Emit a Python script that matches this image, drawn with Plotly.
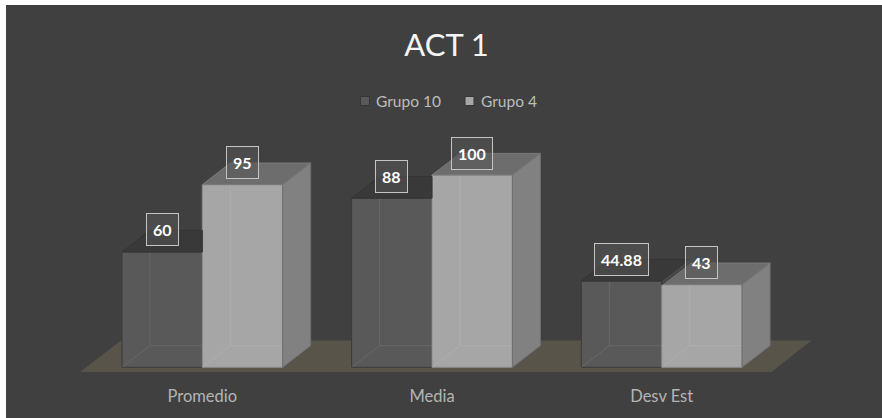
import plotly.graph_objects as go

# ---- data -------------------------------------------------------------
categories = ["Promedio", "Media", "Desv Est"]
series_names = ["Grupo 10", "Grupo 4"]
grupo10 = [60, 88, 44.88]
grupo4 = [95, 100, 43]

# ---- page / axis geometry ---------------------------------------------
W, H = 882, 418
M_L, M_T, M_R, M_B = 6, 5, 0, 40
PX_PER_CAT = 229.7          # horizontal pixels per category step
CAT0_PX = 202.3             # pixel x of the first category centre
PX_PER_UNIT = 1.923         # vertical pixels per value unit
BASE_PX = 367.3             # pixel y of the value 0 baseline

plot_bottom = H - M_B
x_range = [(M_L - CAT0_PX) / PX_PER_CAT, (W - M_R - CAT0_PX) / PX_PER_CAT]
y_range = [-(plot_bottom - BASE_PX) / PX_PER_UNIT, (BASE_PX - M_T) / PX_PER_UNIT]

BAR_W = 0.35                      # bar width in category units
DX = 28 / PX_PER_CAT              # 3-D depth offset (x)
DY = 21.6 / PX_PER_UNIT           # 3-D depth offset (y)

# colours
BG = "#404040"
C10_FRONT, C10_TOP, C10_SIDE = "#595959", "#393939", "#4b4b4b"
C4_FRONT, C4_TOP, C4_SIDE = "#a6a6a6", "#6d6d6d", "#818181"
FLOOR = "#58544a"
TXT = "#b4b4b4"

xpos = list(range(len(categories)))


def poly(points, acc_x, acc_y):
    for px, py in points + [points[0]]:
        acc_x.append(px)
        acc_y.append(py)
    acc_x.append(None)
    acc_y.append(None)


fig = go.Figure()

# front faces of the columns
fig.add_trace(go.Bar(x=xpos, y=grupo10, width=BAR_W, offset=-BAR_W, name=series_names[0],
                     marker=dict(color=C10_FRONT, line=dict(color="#3a3a3a", width=1)),
                     showlegend=False, hoverinfo="skip"))
fig.add_trace(go.Bar(x=xpos, y=grupo4, width=BAR_W, offset=0, name=series_names[1],
                     marker=dict(color=C4_FRONT, line=dict(color="#8c8c8c", width=1)),
                     showlegend=False, hoverinfo="skip"))

# faint back edges seen through the translucent columns
ex, ey = [], []
for c, v10, v4 in zip(xpos, grupo10, grupo4):
    for xa, xb, v in ((c - BAR_W, c, v10), (c, c + BAR_W, v4)):
        ex += [xa, xa + DX, xa + DX, None, xa + DX, xb, None]
        ey += [0, DY, v, None, DY, DY, None]
fig.add_trace(go.Scatter(x=ex, y=ey, mode="lines", line=dict(color="rgba(255,255,255,0.09)", width=1),
                         showlegend=False, hoverinfo="skip"))

# side and top faces
s4x, s4y, t4x, t4y, t10x, t10y, s10x, s10y = [], [], [], [], [], [], [], []
for c, v10, v4 in zip(xpos, grupo10, grupo4):
    xl, xm, xr = c - BAR_W, c, c + BAR_W
    poly([(xr, 0), (xr + DX, DY), (xr + DX, v4 + DY), (xr, v4)], s4x, s4y)
    poly([(xm, v4), (xr, v4), (xr + DX, v4 + DY), (xm + DX, v4 + DY)], t4x, t4y)
    if v10 <= v4:
        s = max(0.0, (v10 + DY - v4) / DY)
        poly([(xl, v10), (xm, v10), (xm, min(v4, v10 + DY)), (xm + DX * s, v10 + DY),
              (xl + DX, v10 + DY)], t10x, t10y)
    else:
        poly([(xl, v10), (xm, v10), (xm + DX, v10 + DY), (xl + DX, v10 + DY)], t10x, t10y)
        poly([(xm, v4), (xm + DX, v4 + DY), (xm + DX, v10 + DY), (xm, v10)], s10x, s10y)

for px_, py_, col, edge in ((s4x, s4y, C4_SIDE, "#6e6e6e"), (t4x, t4y, C4_TOP, "#7a7a7a"),
                            (t10x, t10y, C10_TOP, "#343434"), (s10x, s10y, C10_SIDE, "#383838")):
    if px_:
        fig.add_trace(go.Scatter(x=px_, y=py_, mode="lines", fill="toself", fillcolor=col,
                                 line=dict(color=edge, width=1), showlegend=False, hoverinfo="skip"))

# data labels
annotations = []
for c, v10, v4 in zip(xpos, grupo10, grupo4):
    for xc, v in ((c - BAR_W / 2, v10), (c + BAR_W / 2, v4)):
        annotations.append(dict(
            x=xc, y=v, xref="x", yref="y", text=f"{v:g}", showarrow=False,
            yanchor="middle", yshift=22,
            font=dict(family="Lato", size=16, color="#ffffff", weight="bold"),
            bgcolor="rgba(85,85,85,0.55)", bordercolor="#c4c4c4", borderwidth=1, borderpad=6))

# legend (drawn as swatches + text)
plot_h = H - M_T - M_B
plot_w = W - M_L - M_R


def px2paper(px, py):
    return (px - M_L) / plot_w, (plot_bottom - py) / plot_h


shapes = []
# dark chart area
shapes.append(dict(type="rect", xref="paper", yref="paper", x0=0, x1=1, y0=-M_B / plot_h, y1=1,
                   fillcolor=BG, line=dict(width=0), layer="below"))
# floor slab
fl_x = [-0.532, 2.478, 2.652, -0.354]
fl_y = [-2.4, -2.4, 14.0, 14.0]
shapes.append(dict(type="path", xref="x", yref="y", layer="below",
                   path="M " + " L ".join(f"{a},{b}" for a, b in zip(fl_x, fl_y)) + " Z",
                   fillcolor=FLOOR, line=dict(width=0)))

legend_items = [(series_names[0], C10_FRONT, 365.0, 374.0), (series_names[1], C4_FRONT, 469.5, 478.5)]
for name, col, sq_cx, tx in legend_items:
    x0, y0 = px2paper(sq_cx - 4.5, 105.5)
    x1, y1 = px2paper(sq_cx + 4.5, 96.5)
    shapes.append(dict(type="rect", xref="paper", yref="paper", x0=x0, x1=x1, y0=y0, y1=y1,
                       fillcolor=col, line=dict(color="#353535", width=1)))
    ax_, ay_ = px2paper(tx, 101)
    annotations.append(dict(x=ax_, y=ay_, xref="paper", yref="paper", text=name, showarrow=False,
                            xanchor="left", yanchor="middle",
                            font=dict(family="Lato", size=15.5, color="#bdbdbd")))

fig.update_layout(
    width=W, height=H,
    margin=dict(l=M_L, r=M_R, t=M_T, b=M_B, pad=0),
    paper_bgcolor="#ffffff", plot_bgcolor=BG,
    barmode="overlay",
    title=dict(text="ACT 1", x=446.5 / W, xref="container", xanchor="center",
               y=1 - 45.5 / H, yref="container", yanchor="middle",
               font=dict(family="Lato", size=31, color="#f4f4f4")),
    xaxis=dict(range=x_range, tickvals=xpos, ticktext=categories, showgrid=False, zeroline=False,
               showline=False, ticks="", ticklabelstandoff=6,
               tickfont=dict(family="Lato", size=16.5, color=TXT), fixedrange=True),
    yaxis=dict(range=y_range, showgrid=False, zeroline=False, showline=False,
               showticklabels=False, ticks="", fixedrange=True),
    shapes=shapes,
    annotations=annotations,
    showlegend=False,
)

fig.write_html("out.html")
